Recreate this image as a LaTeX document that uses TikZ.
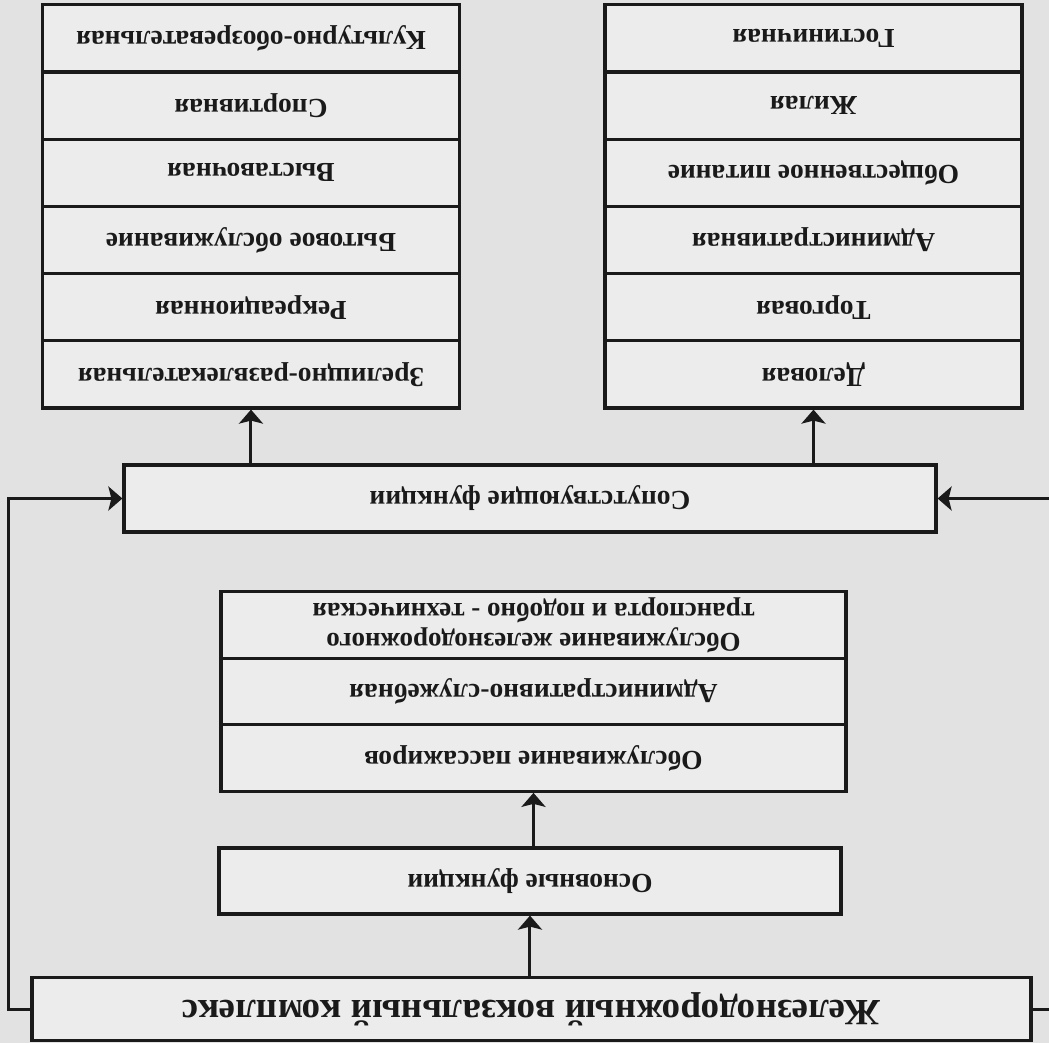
\documentclass[tikz,border=0pt]{standalone}
\usepackage{fontspec}
\setmainfont{Liberation Serif}
\usetikzlibrary{arrows.meta}

\definecolor{pagegray}{HTML}{E2E2E2}
\definecolor{cellgray}{HTML}{ECECEC}
\definecolor{inkgray}{HTML}{1A1A1A}

\tikzset{
  cell/.style={draw=inkgray, line width=3.2pt, fill=cellgray, inner sep=0pt,
    text=inkgray, align=center, font=\bfseries\fontsize{27.5}{30}\selectfont},
  stackcell/.style={cell, minimum width=417pt, minimum height=67.2pt},
  midcell/.style={cell, minimum width=625pt, minimum height=66.5pt},
  link/.style={draw=inkgray, line width=3pt},
}

\begin{document}
\begin{tikzpicture}[x=1pt, y=1pt, >={Stealth[length=14pt,width=24pt,inset=3pt]},
    rotate=180, transform shape]
    % лист целиком (схема в оригинале перевёрнута)
    \useasboundingbox (0,0) rectangle (1049,1043);
    \clip (0,0) rectangle (1049,1043);
    \fill[pagegray] (0,0) rectangle (1049,1043);

    % 1. вокзальный комплекс
    \node[cell, minimum width=999pt, minimum height=63pt,
        font=\bfseries\fontsize{37}{40}\selectfont] (complex) at (517.5,1009)
        {Железнодорожный вокзальный комплекс};

    % 2. основные функции
    \node[cell, minimum width=622pt, minimum height=66pt] (basic) at (519,881)
        {Основные функции};
    \node[midcell] (m1) at (515.5,758) {Обслуживание пассажиров};
    \node[midcell] (m2) at (515.5,691.5) {Административно-служебная};
    \node[midcell, font=\bfseries\fontsize{27}{30}\selectfont] (m3) at (515.5,625)
        {Обслуживание железнодорожного\\транспорта и подобно - техническая};

    % 3. сопутствующие функции
    \node[cell, minimum width=812pt, minimum height=67pt] (extra) at (519,498.5)
        {Сопутствующие функции};

    \foreach \txt [count=\i] in {Деловая, Торговая, Административная,
        Общественное питание, Жилая, Гостиничная}
        \node[stackcell] (l\i) at (235.5,{374.4-(\i-1)*67.2}) {\txt};

    \foreach \txt [count=\i] in {Зрелищно-развлекательная, Рекреационная,
        Бытовое обслуживание, Выставочная, Спортивная, Культурно-обозревательная}
        \node[stackcell] (r\i) at (798,{374.4-(\i-1)*67.2}) {\txt};

    % связи
    \draw[link,->] (complex.south -| basic.north) -- (basic.north);
    \draw[link,->] (basic.south -| m1.north) -- (m1.north);
    \draw[link,->] (complex.west) -- ++(-40,0) |- (extra.west);
    \draw[link,->] (complex.east) -- ++(22,0) |- (extra.east);
    \draw[link,->] (extra.south -| l1.north) -- (l1.north);
    \draw[link,->] (extra.south -| r1.north) -- (r1.north);

\end{tikzpicture}
\end{document}
